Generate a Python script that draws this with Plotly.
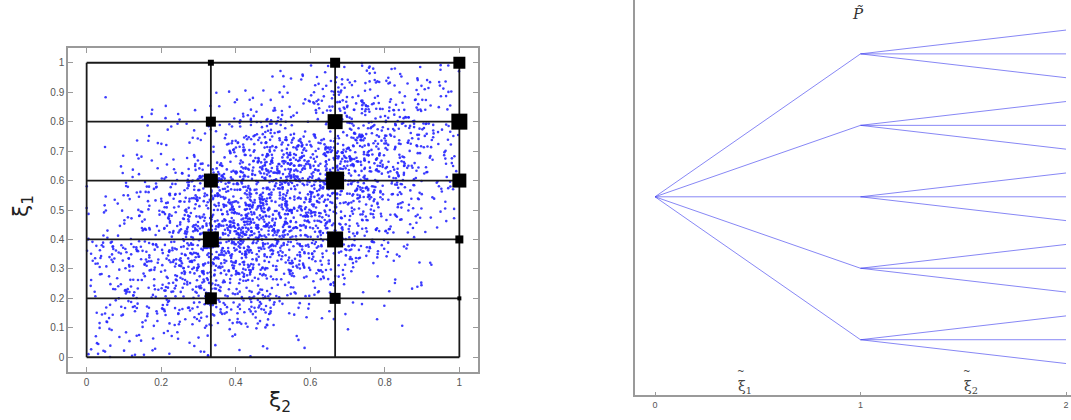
import numpy as np
import plotly.graph_objects as go

# ---------------- data ----------------
# Left panel: sample cloud (Monte-Carlo sample; individual points cannot be read,
# so it is re-drawn from distribution parameters estimated from the picture)
cloud_n = 3000
cloud_mean = [0.52, 0.52]      # (xi2, xi1)
cloud_sd = [0.25, 0.23]
cloud_rho = 0.55

# grid of quantization points
grid_x = [0, 1/3, 2/3, 1]                 # xi2 grid lines
grid_y = [0, 0.2, 0.4, 0.6, 0.8, 1.0]      # xi1 grid lines
node_x = [1/3, 2/3, 1]
node_y = [0.2, 0.4, 0.6, 0.8, 1.0]
# marker size (px) per node_x column, listed for node_y = 0.2 .. 1.0
node_size = {
    1/3: [12, 16, 14, 10, 6],
    2/3: [11, 16, 18, 15, 10],
    1:   [4, 8, 14, 16, 12],
}

x_ticks = [0, 0.2, 0.4, 0.6, 0.8, 1]
x_ticktext = ["0", "0.2", "0.4", "0.6", "0.8", "1"]
y_ticks = [0, 0.1, 0.2, 0.3, 0.4, 0.5, 0.6, 0.7, 0.8, 0.9, 1]
y_ticktext = ["0", "0.1", "0.2", "0.3", "0.4", "0.5", "0.6", "0.7", "0.8", "0.9", "1"]

# Right panel: scenario tree
stage_x = [0, 1, 2]
root_y = 3
stage1_y = [1, 2, 3, 4, 5]
leaf_offset = [-1/3, 0, 1/3]
tree_ticks = [0, 1, 2]

# ---------------- sample ----------------
rng = np.random.default_rng(11)
cov = [[cloud_sd[0]**2, cloud_rho*cloud_sd[0]*cloud_sd[1]],
       [cloud_rho*cloud_sd[0]*cloud_sd[1], cloud_sd[1]**2]]
pts = []
while len(pts) < cloud_n:
    s = rng.multivariate_normal(cloud_mean, cov, size=cloud_n)
    s = s[(s[:, 0] >= 0) & (s[:, 0] <= 1) & (s[:, 1] >= 0) & (s[:, 1] <= 1)]
    pts.extend(s.tolist())
pts = np.array(pts[:cloud_n])

fig = go.Figure()

fig.add_trace(go.Scatter(x=pts[:, 0], y=pts[:, 1], mode="markers",
                         marker=dict(size=2.6, color="rgb(40,40,255)", opacity=0.9, line=dict(width=0)),
                         xaxis="x", yaxis="y", hoverinfo="skip", showlegend=False))

# grid lines
gx, gy = [], []
for v in grid_x:
    gx += [v, v, None]
    gy += [grid_y[0], grid_y[-1], None]
for h in grid_y:
    gx += [grid_x[0], grid_x[-1], None]
    gy += [h, h, None]
fig.add_trace(go.Scatter(x=gx, y=gy, mode="lines", line=dict(color="#1a1a1a", width=1.8),
                         xaxis="x", yaxis="y", hoverinfo="skip", showlegend=False))

# quantization nodes
sx, sy, ss = [], [], []
for cx in node_x:
    for cy, sz in zip(node_y, node_size[cx]):
        sx.append(cx); sy.append(cy); ss.append(sz)
fig.add_trace(go.Scatter(x=sx, y=sy, mode="markers",
                         marker=dict(symbol="square", size=ss, color="black", opacity=1,
                                     line=dict(width=0)),
                         xaxis="x", yaxis="y", hoverinfo="skip", showlegend=False))

# tree
tx, ty = [], []
for n in stage1_y:
    tx += [stage_x[0], stage_x[1], None]
    ty += [root_y, n, None]
    for o in leaf_offset:
        tx += [stage_x[1], stage_x[2], None]
        ty += [n, n + o, None]
fig.add_trace(go.Scatter(x=tx, y=ty, mode="lines", line=dict(color="rgba(70,70,240,0.65)", width=1),
                         xaxis="x2", yaxis="y2", hoverinfo="skip", showlegend=False))

W, H = 1071, 420
gray = "#9a9a9a"
tickfont = dict(family="Liberation Sans, Arial", size=10, color="#555")

def pap(x, y, text, size, family="DejaVu Sans", color="#222", angle=0):
    return dict(text=text, x=x/W, y=1-y/H, xref="paper", yref="paper", showarrow=False,
                textangle=angle, font=dict(family=family, size=size, color=color),
                xanchor="center", yanchor="middle")

fig.update_layout(
    width=W, height=H, margin=dict(l=0, r=0, t=0, b=0),
    paper_bgcolor="white", plot_bgcolor="white",
    xaxis=dict(domain=[68/W, 478/W], range=[-0.05, 1.05], tickvals=x_ticks, ticktext=x_ticktext,
               ticks="inside", ticklen=5, tickcolor=gray, showline=True, linecolor=gray, linewidth=1.5,
               mirror="ticks", showgrid=False, zeroline=False, tickfont=tickfont, anchor="y"),
    yaxis=dict(domain=[1-372/H, 1-48/H], range=[-0.05, 1.05], tickvals=y_ticks, ticktext=y_ticktext,
               ticks="inside", ticklen=5, tickcolor=gray, showline=True, linecolor=gray, linewidth=1.5,
               mirror="ticks", showgrid=False, zeroline=False, tickfont=tickfont, anchor="x"),
    xaxis2=dict(domain=[635/W, 1.0], range=[(635-655)/205.5, (1071-655)/205.5], tickvals=tree_ticks,
                ticktext=[str(t) for t in tree_ticks], ticks="inside", ticklen=3, tickcolor=gray,
                showline=True, linecolor=gray, linewidth=1.5, showgrid=False, zeroline=False,
                tickfont=dict(family="Liberation Sans, Arial", size=9, color="#555"), anchor="y2"),
    yaxis2=dict(domain=[1-395/H, 1.0], range=[1-(395-339.3)/72, 5+54.3/72], showticklabels=False,
                ticks="", showline=True, linecolor=gray, linewidth=1.5, showgrid=False, zeroline=False,
                anchor="x2"),
    annotations=[
        pap(280, 401, "ξ<sub>2</sub>", 22),
        pap(22, 206, "ξ<sub>1</sub>", 22, angle=-90),
        pap(858, 14, "<i>P\u0303</i>", 15, family="DejaVu Serif", color="#333"),
        pap(745, 387, "ξ<sub>1</sub>", 14, family="DejaVu Serif", color="#444"),
        pap(741, 371, "~", 9, family="DejaVu Serif", color="#444"),
        pap(971, 387, "ξ<sub>2</sub>", 14, family="DejaVu Serif", color="#444"),
        pap(967, 371, "~", 9, family="DejaVu Serif", color="#444"),
    ],
)

fig.write_html("out.html")
